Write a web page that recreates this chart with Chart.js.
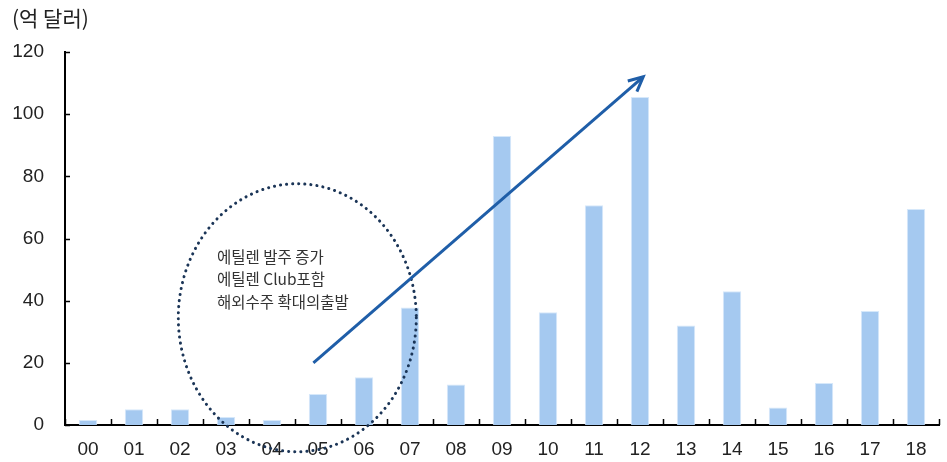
<!DOCTYPE html>
<html>
<head>
<meta charset="utf-8">
<script src="https://cdn.jsdelivr.net/npm/chart.js@4"></script>
<style>
  html, body { margin: 0; padding: 0; background: #fff; }
  #wrap { position: relative; width: 947px; height: 462px; }
</style>
</head>
<body>
<div id="wrap"><canvas id="orderChart" width="947" height="462"></canvas></div>
<script>
// 연도별 해외수주 (억 달러)
const years = ['00', '01', '02', '03', '04', '05', '06', '07', '08', '09',
               '10', '11', '12', '13', '14', '15', '16', '17', '18'];
const orders = [1.6, 5.1, 5.1, 2.6, 1.6, 10, 15.4, 37.8, 13, 93,
                36.3, 70.7, 105.5, 32, 43, 5.6, 13.5, 36.7, 69.5];
const yTicks = [0, 20, 40, 60, 80, 100, 120];
const unitLabel = '(억 달러)';
const noteLines = ['에틸렌 발주 증가', '에틸렌 Club포함', '해외수주 확대의출발'];

const baseFont = "'Liberation Sans', 'Noto Sans CJK KR', sans-serif";
const krFont = "'Noto Sans CJK KR', 'Liberation Sans', sans-serif";

// 눈금선(안쪽), 단위, 주석 그리기
const decorPlugin = {
    id: 'decor',
    afterDraw(chart) {
        const ctx = chart.ctx;
        const x = chart.scales.x;
        const y = chart.scales.y;
        const area = chart.chartArea;
        ctx.save();

        // 축 눈금
        ctx.strokeStyle = '#000';
        ctx.lineWidth = 1.5;
        ctx.beginPath();
        yTicks.forEach(v => {
            const py = Math.round(y.getPixelForValue(v)) + 0.5;
            ctx.moveTo(area.left, py);
            ctx.lineTo(area.left + 5, py);
        });
        for (let i = 0; i <= years.length; i++) {
            const px = Math.round(x.getPixelForValue(i - 0.5)) + 0.5;
            ctx.moveTo(px, area.bottom);
            ctx.lineTo(px, area.bottom - 6);
        }
        ctx.stroke();

        // 단위
        ctx.fillStyle = '#222';
        ctx.font = '21px ' + krFont;
        ctx.textBaseline = 'middle';
        ctx.textAlign = 'left';
        ctx.fillText(unitLabel, 12, 18);

        // 점선 타원
        const cx = x.getPixelForValue(4.55);
        const cy = y.getPixelForValue(34.5);
        ctx.strokeStyle = '#1b3557';
        ctx.lineWidth = 3;
        ctx.lineCap = 'round';
        ctx.setLineDash([0.1, 6]);
        ctx.beginPath();
        ctx.ellipse(cx, cy, 119, 134, 0, 0, Math.PI * 2);
        ctx.stroke();
        ctx.setLineDash([]);

        // 화살표
        const x0 = x.getPixelForValue(4.9), y0 = y.getPixelForValue(20);
        const x1 = x.getPixelForValue(12.07), y1 = y.getPixelForValue(112);
        ctx.strokeStyle = '#1f5ea8';
        ctx.lineWidth = 3;
        ctx.lineCap = 'butt';
        ctx.beginPath();
        ctx.moveTo(x0, y0);
        ctx.lineTo(x1, y1);
        ctx.stroke();
        const ang = Math.atan2(y1 - y0, x1 - x0);
        const hl = 16;
        ctx.beginPath();
        ctx.moveTo(x1 - hl * Math.cos(ang - 0.45), y1 - hl * Math.sin(ang - 0.45));
        ctx.lineTo(x1, y1);
        ctx.lineTo(x1 - hl * Math.cos(ang + 0.45), y1 - hl * Math.sin(ang + 0.45));
        ctx.stroke();

        // 주석 텍스트
        ctx.fillStyle = '#333';
        ctx.font = '15.5px ' + krFont;
        ctx.textAlign = 'left';
        noteLines.forEach((t, i) => {
            ctx.fillText(t, 217, 257 + i * 22.5);
        });
        ctx.restore();
    }
};

const ctx = document.getElementById('orderChart').getContext('2d');
new Chart(ctx, {
    type: 'bar',
    data: {
        labels: years,
        datasets: [{
            label: '해외수주',
            data: orders,
            backgroundColor: '#a5c9f0',
            borderColor: '#d6e8fa',
            borderWidth: 1,
            barPercentage: 0.4,
            categoryPercentage: 1.0
        }]
    },
    options: {
        responsive: false,
        animation: false,
        layout: {
            padding: { left: 0, right: 8, top: 52, bottom: 0 }
        },
        plugins: {
            legend: { display: false },
            tooltip: { enabled: false }
        },
        scales: {
            x: {
                offset: true,
                grid: { display: false },
                border: { display: true, color: '#000', width: 2 },
                afterFit(scale) { scale.height = 37; },
                ticks: {
                    color: '#222',
                    font: { family: baseFont, size: 19 },
                    padding: 5,
                    maxRotation: 0
                }
            },
            y: {
                min: 0,
                max: 120,
                grid: { display: false },
                border: { display: true, color: '#000', width: 2 },
                afterFit(scale) { scale.width = 65; },
                afterBuildTicks(scale) {
                    scale.ticks = yTicks.map(v => ({ value: v }));
                },
                ticks: {
                    color: '#222',
                    font: { family: baseFont, size: 19 },
                    padding: 13
                }
            }
        }
    },
    plugins: [decorPlugin]
});
</script>
</body>
</html>
